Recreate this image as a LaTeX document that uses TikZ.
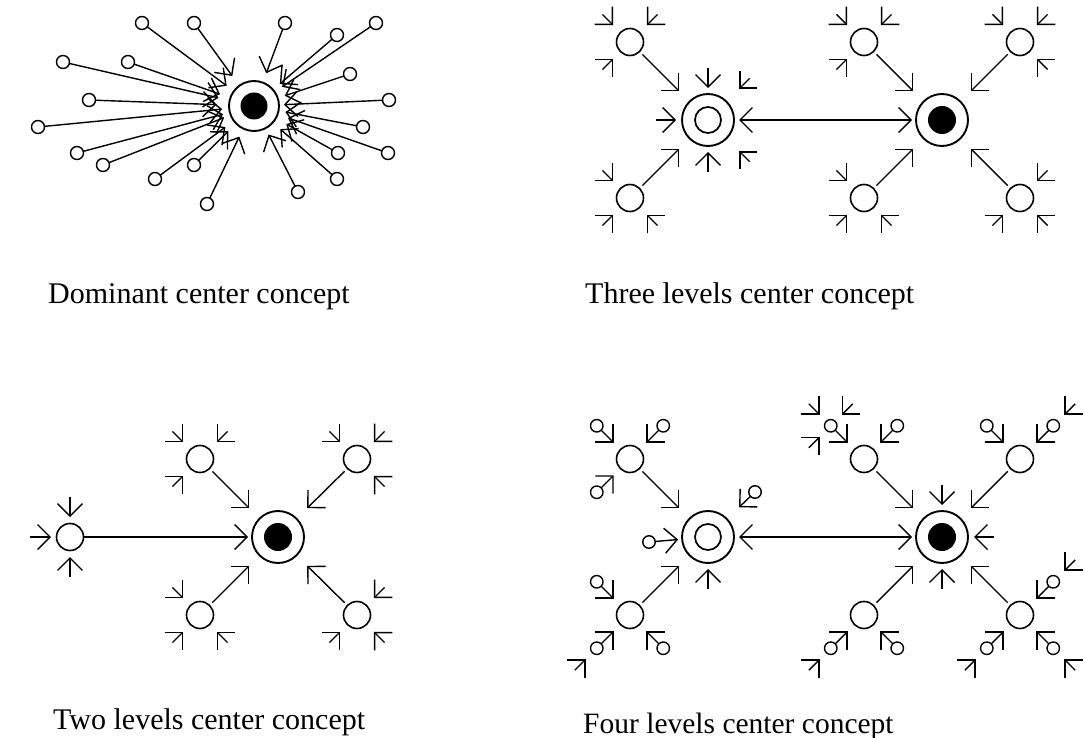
\documentclass[tikz,border=0pt]{standalone}
\usepackage{fontspec}
\setmainfont{Liberation Serif}
\usetikzlibrary{arrows.meta,calc}
\tikzset{
  >={Straight Barb[length=12.5pt,width=25pt,line width=1.4pt]},
  sat/.style={circle, draw, line width=1.6pt, minimum size=27pt, inner sep=0pt, outer sep=0pt},
  dot/.style={circle, draw, line width=1.4pt, minimum size=12.5pt, inner sep=0pt, outer sep=0pt},
  ring/.style={circle, draw, line width=1.9pt, minimum size=52pt, inner sep=0pt, outer sep=0pt},
  core/.style={circle, fill=black, minimum size=28pt, inner sep=0pt, outer sep=0pt},
  hole/.style={circle, draw, line width=1.7pt, minimum size=26pt, inner sep=0pt, outer sep=0pt},
  arr/.style={line width=1.4pt, ->},
  darr/.style={line width=1.4pt, <->},
  lbl/.style={anchor=base west, inner sep=0pt, font=\fontsize{30}{36}\selectfont}
}
% stub arrow: node, angle, start distance, tip distance
\newcommand\stubarrow[4]{%
  \coordinate (#1-#2-from) at ($(#1)+(#2:#3pt)$);
  \coordinate (#1-#2-to) at ($(#1)+(#2:#4pt)$);
  \draw[arr] (#1-#2-from) -- (#1-#2-to);
}
% small feeding circle: satellite node, angle, name, distance
\newcommand\feeder[4]{%
  \node[dot] (#3) at ($(#1)+(#2:#4pt)$) {};
  \draw[arr, shorten >=9.5pt] (#3) -- (#1);
}
\begin{document}
\begin{tikzpicture}[x=1pt,y=-1pt]
\useasboundingbox (0,0) rectangle (1085,738);

% ---------------- Panel 1: Dominant center ----------------
\node[circle, draw, line width=1.9pt, minimum size=50pt, inner sep=0pt, outer sep=0pt] (c1) at (254,106) {};
\node[core, minimum size=27pt] (c1core) at (254,106) {};
\foreach \n/\x/\y in {d1/142/23, d2/194/23, d3/285/23, d4/376/23, d5/337/35,
  d6/63/62, d7/128/62, d8/350/74, d9/89/100, d10/389/100, d11/38/127,
  d12/363/127, d13/77/153, d14/338/153, d15/388/153, d16/103/165,
  d17/194/165, d18/155/179, d19/337/179, d20/298/192, d21/207/204}
  \node[dot, minimum size=13pt] (\n) at (\x,\y) {};
\foreach \n/\s in {d1/9, d2/12, d3/10, d4/9, d5/9, d6/11.5, d7/11, d8/7.5,
  d9/12.5, d10/5, d11/7, d12/7, d13/7, d14/12, d15/11, d16/7, d17/11,
  d18/10.5, d19/10, d20/7, d21/9}
  \draw[arr, shorten >=\s pt] (\n) -- (c1);
\node[lbl] (t1) at (48,303) {Dominant center concept};

% ---------------- Panel 2: Three levels ----------------
\node[ring] (L2) at (708,120) {};
\node[hole] (L2in) at (708,120) {};
\node[ring] (R2) at (942,120) {};
\node[core] (R2in) at (942,120) {};
\foreach \n/\x/\y in {a1/630/42, a2/630/198, b1/864/42, b2/1020/42, b3/864/198, b4/1020/198}
  \node[sat] (\n) at (\x,\y) {};
\foreach \n in {a1,a2} \draw[arr, shorten >=15pt, shorten <=4pt] (\n) -- (L2);
\foreach \n in {b1,b2,b3,b4} \draw[arr, shorten >=15pt, shorten <=4pt] (\n) -- (R2);
\draw[darr, shorten >=4pt, shorten <=5pt] (L2) -- (R2);
\stubarrow{L2}{90}{52}{32}
\stubarrow{L2}{180}{52}{32}
\stubarrow{L2}{270}{52}{32}
\stubarrow{L2}{45}{59}{44}
\stubarrow{L2}{-45}{59}{44}
\foreach \a in {135,45,225} {\stubarrow{a1}{\a}{39}{24}}
\foreach \a in {135,225,315} {\stubarrow{a2}{\a}{39}{24}}
\foreach \a in {135,45,225} {\stubarrow{b1}{\a}{39}{24}}
\foreach \a in {135,45,315} {\stubarrow{b2}{\a}{39}{24}}
\foreach \a in {135,225,315} {\stubarrow{b3}{\a}{39}{24}}
\foreach \a in {45,225,315} {\stubarrow{b4}{\a}{39}{24}}
\node[lbl] (t2) at (585,304) {Three levels center concept};

% ---------------- Panel 3: Two levels ----------------
\node[ring] (C3) at (278,537) {};
\node[core] (C3in) at (278,537) {};
\node[sat] (e0) at (70,537) {};
\draw[arr, shorten >=4pt] (e0) -- (C3);
\stubarrow{e0}{90}{40}{20}
\stubarrow{e0}{180}{40}{19}
\stubarrow{e0}{270}{40}{20}
\foreach \n/\x/\y in {f1/200/459, f2/357/459, f3/200/615, f4/357/615}
  \node[sat] (\n) at (\x,\y) {};
\foreach \n in {f1,f2,f3,f4} \draw[arr, shorten >=15pt, shorten <=4pt] (\n) -- (C3);
\foreach \a in {135,45,225} {\stubarrow{f1}{\a}{39}{24}}
\foreach \a in {135,45,315} {\stubarrow{f2}{\a}{39}{24}}
\foreach \a in {135,225,315} {\stubarrow{f3}{\a}{39}{24}}
\foreach \a in {45,225,315} {\stubarrow{f4}{\a}{39}{24}}
\node[lbl] (t3) at (53,729) {Two levels center concept};

% ---------------- Panel 4: Four levels ----------------
\node[ring] (L4) at (708,537) {};
\node[hole] (L4in) at (708,537) {};
\node[ring] (R4) at (942,537) {};
\node[core] (R4in) at (942,537) {};
\foreach \n/\x/\y in {g1/630/459, g2/630/615, h1/864/459, h2/1020/459, h3/864/615, h4/1020/615}
  \node[sat] (\n) at (\x,\y) {};
\foreach \n in {g1,g2} \draw[arr, shorten >=15pt, shorten <=4pt] (\n) -- (L4);
\foreach \n in {h1,h2,h3,h4} \draw[arr, shorten >=15pt, shorten <=4pt] (\n) -- (R4);
\draw[darr, shorten >=4pt, shorten <=5pt] (L4) -- (R4);
% left center inputs
\node[dot] (k1) at (755,492) {};
\draw[arr, shorten >=17pt] (k1) -- (L4);
\node[dot] (k2) at (649,542) {};
\draw[arr, shorten >=4pt] (k2) -- (L4);
\stubarrow{L4}{270}{52}{32}
% right center stubs
\stubarrow{R4}{90}{52}{32}
\stubarrow{R4}{0}{52}{32}
\stubarrow{R4}{270}{52}{32}
% satellites' feeders
\feeder{g1}{135}{g1a}{47}
\feeder{g1}{45}{g1b}{47}
\feeder{g1}{225}{g1c}{47}
\feeder{g2}{135}{g2a}{47}
\feeder{g2}{225}{g2c}{47}
\feeder{g2}{315}{g2d}{47}
\stubarrow{g2c}{225}{31}{15.5}
\feeder{h1}{135}{h1a}{47}
\feeder{h1}{45}{h1b}{47}
\stubarrow{h1a}{135}{31}{15.5}
\stubarrow{h1a}{45}{31}{15.5}
\stubarrow{h1a}{225}{31}{15.5}
\feeder{h2}{135}{h2a}{47}
\feeder{h2}{45}{h2b}{47}
\stubarrow{h2b}{45}{31}{15.5}
\feeder{h3}{225}{h3c}{47}
\feeder{h3}{315}{h3d}{47}
\stubarrow{h3c}{225}{31}{15.5}
\feeder{h4}{45}{h4b}{47}
\feeder{h4}{225}{h4c}{47}
\feeder{h4}{315}{h4d}{47}
\stubarrow{h4b}{45}{31}{15.5}
\stubarrow{h4c}{225}{31}{15.5}
\stubarrow{h4d}{315}{31}{15.5}
\node[lbl, font=\fontsize{29.5}{36}\selectfont] (t4) at (583,733) {Four levels center concept};
\end{tikzpicture}
\end{document}
